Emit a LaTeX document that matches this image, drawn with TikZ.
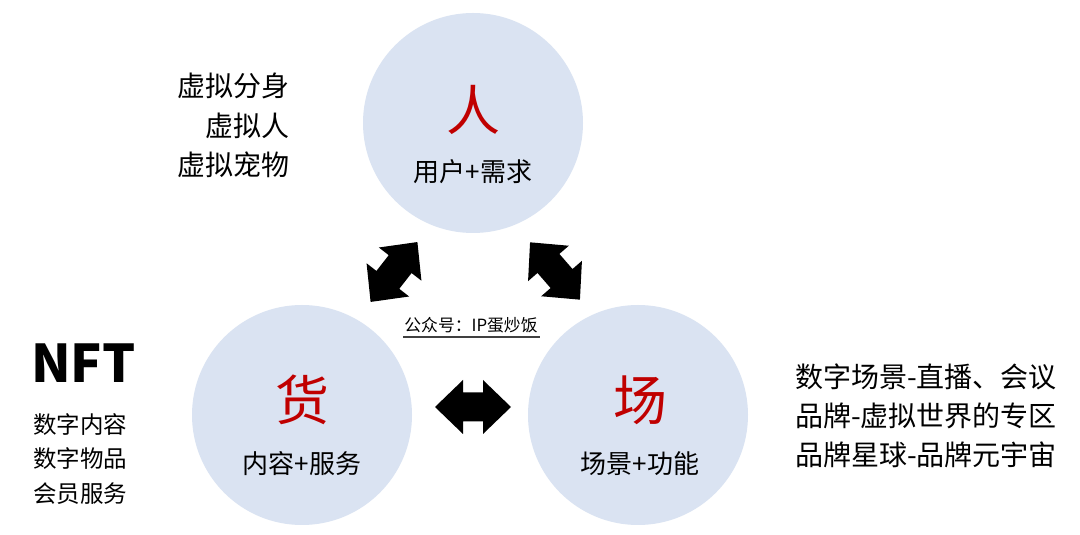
\documentclass[tikz,border=0pt]{standalone}
\usepackage{fontspec}
\newfontfamily\cjk{Noto Sans CJK SC}
\setmainfont{Noto Sans CJK SC}
\definecolor{circ}{HTML}{DAE3F2}
\definecolor{bigred}{HTML}{C00000}
\begin{document}
\begin{tikzpicture}[x=1pt,y=1pt,
  circ/.style={circle,fill=circ,minimum size=220pt,inner sep=0pt},
  bigchar/.style={font=\cjk\fontsize{54}{60}\selectfont,text=bigred,inner sep=0pt},
  sub/.style={font=\cjk\fontsize{26}{30}\selectfont,inner sep=0pt},
  side/.style={font=\cjk\fontsize{28}{32}\selectfont,inner sep=0pt},
  nftitem/.style={font=\cjk\fontsize{23.5}{28}\selectfont,inner sep=0pt,anchor=west},
  blockarrow/.style={fill=black}]
\useasboundingbox (0,0) rectangle (1080,535);
\fill[white] (0,0) rectangle (1080,535);
% circles
\node[circ] (ren) at (473,412) {};
\node[circ] (huo) at (302,120) {};
\node[circ] (chang) at (638,120) {};
% circle texts
\node[bigchar] (renc) at (473,425) {人};
\node[sub] (rens) at (473,363) {用户+需求};
\node[bigchar] (huoc) at (302,135) {货};
\node[sub] (huos) at (302,71) {内容+服务};
\node[bigchar] (changc) at (640,135) {场};
\node[sub] (changs) at (640,71) {场景+功能};
% left top
\node[side,anchor=east] (v1) at (290,449) {虚拟分身};
\node[side,anchor=east] (v2) at (290,409) {虚拟人};
\node[side,anchor=east] (v3) at (290,370) {虚拟宠物};
% NFT
\node[font=\cjk\bfseries\fontsize{52}{58}\selectfont,inner sep=0pt,anchor=west] (nft) at (31,172) {NFT};
\node[nftitem] (n1) at (33,110) {数字内容};
\node[nftitem] (n2) at (33,76) {数字物品};
\node[nftitem] (n3) at (33,41) {会员服务};
% right
\node[side,anchor=west] (r1) at (795,158) {数字场景-直播、会议};
\node[side,anchor=west] (r2) at (795,119) {品牌-虚拟世界的专区};
\node[side,anchor=west] (r3) at (795,80) {品牌星球-品牌元宇宙};
% watermark
\node[font=\cjk\fontsize{16.8}{20}\selectfont,inner sep=0pt] (wm) at (471,210) {公众号：IP蛋炒饭};
\draw[line width=1.2pt,black!75] (403,198) -- (540,198);
% block arrows
\foreach \cx/\cy/\ang in {394/263/52, 555/264/-49, 473/128/0}{
  \begin{scope}[shift={(\cx,\cy)},rotate=\ang]
    \fill[blockarrow] (-38,0) -- (-10,-27) -- (-10,-14.5) -- (10,-14.5) -- (10,-27) -- (38,0) -- (10,27) -- (10,14.5) -- (-10,14.5) -- (-10,27) -- cycle;
  \end{scope}
}
\end{tikzpicture}
\end{document}
